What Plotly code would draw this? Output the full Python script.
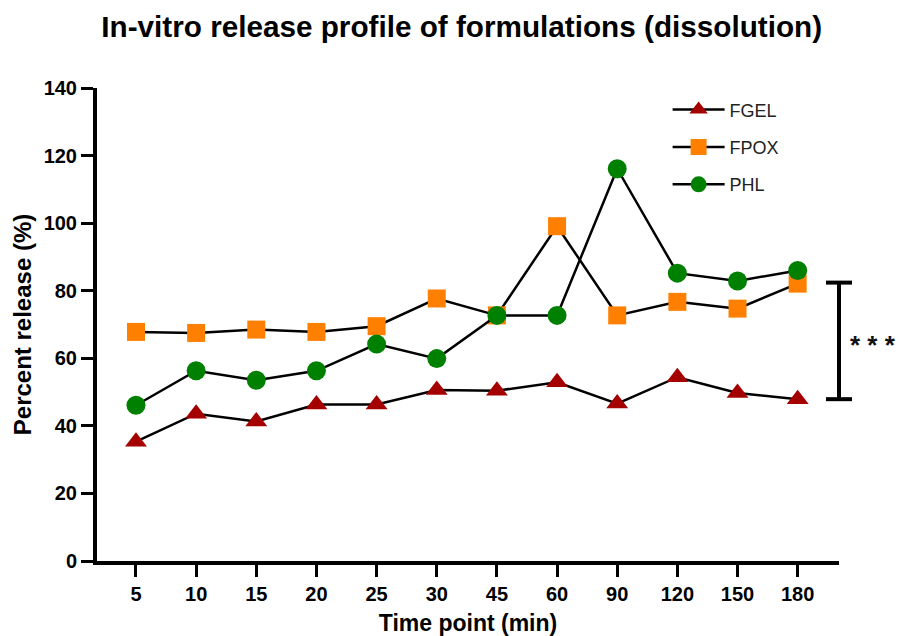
import plotly.graph_objects as go

time_points = ["5", "10", "15", "20", "25", "30", "45", "60", "90", "120", "150", "180"]
fgel = [35.3, 43.6, 41.3, 46.3, 46.3, 50.6, 50.4, 52.9, 46.6, 54.4, 49.7, 47.9]
fpox = [67.8, 67.5, 68.5, 67.8, 69.5, 77.7, 72.7, 99.1, 72.7, 76.7, 74.7, 82.1]
phl = [46.1, 56.3, 53.5, 56.3, 64.2, 59.9, 72.7, 72.7, 116.1, 85.2, 82.9, 86.0]
bracket = [47.9, 82.4]
y_ticks = [0, 20, 40, 60, 80, 100, 120, 140]

FONT = "Liberation Sans, Arial, sans-serif"

fig = go.Figure()
fig.add_trace(go.Scatter(
    x=time_points, y=fgel, name="FGEL", mode="lines+markers", legendgroup="a",
    line=dict(color="black", width=2.5),
    marker=dict(symbol="triangle-up", size=19, color="#A50000"),
))
fig.add_trace(go.Scatter(
    x=time_points, y=fpox, name="FPOX", mode="lines+markers", legendgroup="b",
    line=dict(color="black", width=2.5),
    marker=dict(symbol="square", size=18, color="#FF8000"),
))
fig.add_trace(go.Scatter(
    x=time_points, y=phl, name="PHL", mode="lines+markers", legendgroup="c",
    line=dict(color="black", width=2.5),
    marker=dict(symbol="circle", size=19, color="#008000"),
))

# significance bracket at the right end of the x axis
fig.add_shape(type="line", xref="paper", yref="y", x0=1, x1=1,
              y0=bracket[0], y1=bracket[1], line=dict(color="black", width=4))
for yv in bracket:
    fig.add_shape(type="line", xref="paper", yref="y", xsizemode="pixel", xanchor=1,
                  x0=-13, x1=13, y0=yv, y1=yv, line=dict(color="black", width=4))
fig.add_annotation(xref="paper", yref="y", x=1, xanchor="center", xshift=34,
                   y=(bracket[0] + bracket[1]) / 2,
                   text="* * *", showarrow=False, yshift=-4,
                   font=dict(family=FONT, size=26, color="#111111", weight="bold"))

fig.update_layout(
    width=901, height=636,
    margin=dict(l=97, r=62, t=88, b=75, autoexpand=False),
    paper_bgcolor="white", plot_bgcolor="white",
    title=dict(text="In-vitro release profile of formulations (dissolution)",
               x=0.4915, xref="paper", xanchor="center", y=0.958, yref="container", yanchor="middle",
               font=dict(family=FONT, size=29.7, color="black", weight="bold")),
    legend=dict(x=0.769, y=0.993, xanchor="left", yanchor="top", traceorder="grouped",
                tracegroupgap=11, itemwidth=52, bgcolor="rgba(0,0,0,0)",
                font=dict(family=FONT, size=18, color="#222222")),
    showlegend=True,
)
fig.update_xaxes(
    type="category", range=[-0.648, 11.687], automargin=False,
    showline=True, linecolor="black", linewidth=4, mirror=False,
    ticks="outside", ticklen=12, tickwidth=3, tickcolor="black",
    showgrid=False, zeroline=False,
    tickfont=dict(family=FONT, size=20, color="black", weight="bold"),
    title=dict(text="Time point (min)", standoff=20,
               font=dict(family=FONT, size=23, color="black", weight="bold")),
)
fig.update_yaxes(
    range=[0, 140], tickvals=y_ticks, automargin=False,
    showline=True, linecolor="black", linewidth=4, mirror=False,
    ticks="outside", ticklen=12, tickwidth=3, tickcolor="black",
    showgrid=False, zeroline=False,
    tickfont=dict(family=FONT, size=20, color="black", weight="bold"),
    title=dict(text="Percent release (%)", standoff=6,
               font=dict(family=FONT, size=24, color="black", weight="bold")),
)

fig.write_html("out.html")
